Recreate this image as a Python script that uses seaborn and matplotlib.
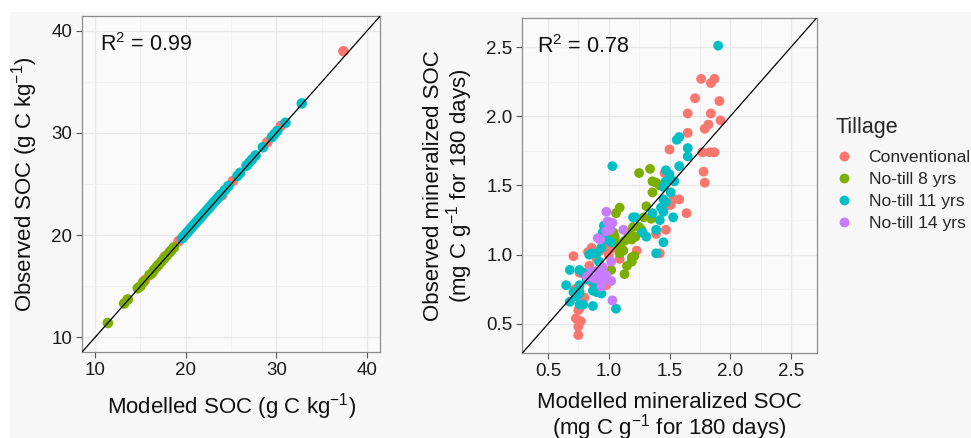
import numpy as np
import pandas as pd
import matplotlib
matplotlib.use('Agg')
import matplotlib.pyplot as plt
from matplotlib.patches import Rectangle
import seaborn as sns

sns.set_theme(style="white")
plt.rcParams['font.family'] = ['Liberation Sans', 'DejaVu Sans']
plt.rcParams['mathtext.fontset'] = 'custom'
plt.rcParams['mathtext.rm'] = 'Liberation Sans'
plt.rcParams['mathtext.it'] = 'Liberation Sans:italic'

tillage_order = ['Conventional', 'No-till 8 yrs', 'No-till 11 yrs', 'No-till 14 yrs']
palette = ['#F8766D', '#7CAE00', '#00BFC4', '#C77CFF']

# ---- left panel: SOC (g C kg-1) ----
soc_mod_conv = [15.5, 17.7, 19.2, 24.0, 25.2, 29.0, 30.5, 37.4]
soc_obs_conv = [15.6, 17.9, 19.4, 23.9, 25.3, 29.1, 30.7, 38.0]
soc_mod_nt8 = [11.4, 13.2, 13.6, 14.7, 15.0, 15.3, 16.0, 16.3, 16.5, 16.8, 17.0,
               17.3, 17.6, 17.9, 18.2, 18.4, 18.7, 23.7]
soc_obs_nt8 = [11.4, 13.3, 13.7, 14.8, 15.0, 15.4, 16.1, 16.3, 16.6, 16.9, 17.1,
               17.4, 17.7, 18.0, 18.3, 18.5, 18.8, 23.8]
soc_mod_nt11 = [19.6, 19.8, 20.0, 20.2, 20.4, 20.6, 20.8, 21.0, 21.2, 21.4, 21.6,
                21.8, 22.0, 22.2, 22.4, 22.6, 22.8, 23.0, 23.2, 23.4, 23.6, 23.9,
                24.3, 24.7, 25.7, 26.0, 26.7, 27.0, 27.3, 27.7, 28.5, 29.5, 29.8,
                30.1, 31.0, 32.8]
soc_obs_nt11 = [19.7, 19.9, 20.1, 20.3, 20.5, 20.7, 20.9, 21.1, 21.3, 21.5, 21.7,
                21.9, 22.1, 22.3, 22.5, 22.7, 22.9, 23.1, 23.3, 23.5, 23.7, 24.0,
                24.4, 24.8, 25.8, 26.1, 26.8, 27.1, 27.4, 27.8, 28.6, 29.6, 29.9,
                30.2, 31.0, 32.9]

# ---- right panel: mineralized SOC (mg C g-1 for 180 days) ----
min_mod_conv = [1.76, 1.87, 1.84, 1.71, 1.91, 1.65, 1.84, 1.92, 1.82, 1.79, 1.65,
                1.50, 1.77, 1.83, 1.87, 1.78, 1.79, 1.46, 1.53, 1.58, 1.47, 1.51,
                1.64, 1.47, 1.39, 1.42, 1.23, 0.86, 0.87, 0.93, 0.98, 0.90, 0.84,
                0.80, 0.76, 0.71, 0.72, 0.76, 0.80, 0.76, 0.75, 0.73, 0.77, 0.75,
                0.75, 1.09, 0.98, 0.94, 1.05, 0.86, 0.88, 1.00, 0.83]
min_obs_conv = [2.27, 2.27, 2.24, 2.13, 2.11, 2.02, 2.02, 1.97, 1.94, 1.91, 1.88,
                1.76, 1.74, 1.74, 1.74, 1.60, 1.52, 1.59, 1.40, 1.40, 1.35, 1.36,
                1.30, 1.18, 1.15, 1.01, 1.03, 1.05, 1.01, 1.03, 1.05, 0.97, 0.92,
                0.86, 0.87, 0.99, 0.75, 0.74, 0.69, 0.61, 0.60, 0.54, 0.52, 0.48,
                0.42, 0.97, 0.78, 1.11, 1.05, 0.80, 0.88, 1.00, 1.02]
min_mod_nt8 = [1.25, 1.34, 1.36, 1.39, 1.36, 1.42, 1.09, 1.06, 1.20, 1.17, 1.22,
               1.19, 1.16, 1.13, 1.29, 1.04, 1.05, 1.06, 1.09, 1.12, 1.09, 1.19,
               1.21, 1.19, 1.15, 1.13, 1.02, 1.25, 1.27, 0.98, 1.01, 1.31, 1.35]
min_obs_nt8 = [1.59, 1.62, 1.53, 1.52, 1.45, 1.50, 1.34, 1.30, 1.20, 1.16, 1.13,
               1.11, 1.13, 1.10, 1.27, 1.16, 1.13, 1.09, 1.06, 1.03, 1.01, 0.98,
               0.99, 0.95, 0.92, 0.86, 0.89, 1.20, 1.18, 1.18, 1.13, 1.35, 1.26]
min_mod_nt11 = [1.90, 1.03, 1.56, 1.58, 1.65, 1.65, 1.58, 1.47, 1.50, 1.54, 1.47,
                1.45, 1.51, 1.45, 1.47, 1.53, 1.42, 1.45, 1.36, 1.43, 1.39, 1.45,
                1.39, 1.20, 1.22, 1.28, 1.31, 0.96, 0.98, 0.94, 0.90, 0.86, 0.84,
                0.92, 0.76, 0.68, 0.79, 0.82, 0.87, 0.76, 0.65, 0.71, 0.73, 0.68,
                0.76, 0.79, 0.87, 0.92, 0.90, 0.94, 0.91, 1.06, 0.76, 0.87, 0.95,
                1.02]
min_obs_nt11 = [2.51, 1.64, 1.83, 1.85, 1.77, 1.71, 1.64, 1.61, 1.58, 1.53, 1.53,
                1.49, 1.45, 1.40, 1.38, 1.27, 1.25, 1.31, 1.30, 1.34, 1.18, 1.09,
                1.01, 1.27, 1.27, 1.16, 1.13, 1.21, 1.11, 1.05, 1.01, 1.01, 1.00,
                0.95, 0.89, 0.89, 0.87, 0.82, 0.81, 0.78, 0.78, 0.73, 0.70, 0.66,
                0.64, 0.64, 0.63, 0.73, 0.73, 0.72, 0.79, 0.61, 0.72, 0.74, 1.16,
                1.09]
min_mod_nt14 = [0.98, 0.99, 1.03, 1.12, 0.93, 0.91, 1.01, 0.98, 0.82, 0.85, 0.87,
                0.90, 0.93, 0.96, 0.94, 0.98, 1.02, 1.02, 1.03, 0.93, 0.95, 0.86,
                1.01, 0.88]
min_obs_nt14 = [1.31, 1.24, 1.23, 1.18, 1.11, 1.12, 1.18, 1.17, 0.84, 0.86, 0.84,
                0.87, 0.81, 0.82, 0.77, 0.85, 0.95, 0.81, 0.67, 0.88, 0.91, 0.88,
                1.20, 0.83]


def make_df(groups):
    frames = []
    for name, mod, obs in groups:
        frames.append(pd.DataFrame({'modelled': mod, 'observed': obs, 'Tillage': name}))
    return pd.concat(frames, ignore_index=True)


soc = make_df([('Conventional', soc_mod_conv, soc_obs_conv),
               ('No-till 8 yrs', soc_mod_nt8, soc_obs_nt8),
               ('No-till 11 yrs', soc_mod_nt11, soc_obs_nt11)])
mineral = make_df([('Conventional', min_mod_conv, min_obs_conv),
                   ('No-till 8 yrs', min_mod_nt8, min_obs_nt8),
                   ('No-till 11 yrs', min_mod_nt11, min_obs_nt11),
                   ('No-till 14 yrs', min_mod_nt14, min_obs_nt14)])

fig = plt.figure(figsize=(9.71, 4.38), dpi=100, facecolor='white')
fig.patches.append(Rectangle((10 / 971, 0), 1, 1 - 12 / 438, transform=fig.transFigure,
                             facecolor='#f7f7f7', edgecolor='none', zorder=-10))
ax1 = fig.add_axes([0.0845, 0.1963, 0.307, 0.767])
ax2 = fig.add_axes([0.538, 0.194, 0.303, 0.765])

sns.scatterplot(data=soc, x='modelled', y='observed', hue='Tillage', hue_order=tillage_order,
                palette=palette, s=58, linewidth=0, alpha=1, ax=ax1, legend=False, zorder=3)
sns.scatterplot(data=mineral, x='modelled', y='observed', hue='Tillage', hue_order=tillage_order,
                palette=palette, s=50, linewidth=0, alpha=1, ax=ax2, zorder=3)

for ax, lim, major, minor in [(ax1, (8.55, 41.45), [10, 20, 30, 40], [15, 25, 35]),
                              (ax2, (0.29, 2.71), [0.5, 1.0, 1.5, 2.0, 2.5],
                               [0.75, 1.25, 1.75, 2.25])]:
    ax.set_facecolor('#fafafa')
    ax.set_xlim(lim)
    ax.set_ylim(lim)
    ax.set_xticks(major)
    ax.set_yticks(major)
    ax.set_xticks(minor, minor=True)
    ax.set_yticks(minor, minor=True)
    ax.grid(True, which='major', color='#e8e8e8', linewidth=0.9, zorder=0)
    ax.grid(True, which='minor', color='#f0f0f0', linewidth=0.6, zorder=0)
    ax.tick_params(which='major', length=4, width=0.8, color='#555555', labelsize=13.5,
                   labelcolor='#1a1a1a', pad=3, bottom=True, left=True)
    ax.tick_params(which='minor', length=0)
    for sp in ax.spines.values():
        sp.set_color('#8c8c8c')
        sp.set_linewidth(0.9)
    ax.axline((lim[0], lim[0]), slope=1, color='black', linewidth=0.9, zorder=4)
    ax.set_axisbelow(True)

ax2.xaxis.set_major_formatter(matplotlib.ticker.FormatStrFormatter('%.1f'))
ax2.yaxis.set_major_formatter(matplotlib.ticker.FormatStrFormatter('%.1f'))

ax1.text(0.06, 0.895, r'R$^2$ = 0.99', transform=ax1.transAxes, fontsize=15.5, color='#111111')
ax2.text(0.05, 0.895, r'R$^2$ = 0.78', transform=ax2.transAxes, fontsize=15.5, color='#111111')

ax1.set_xlabel(r'Modelled SOC (g C kg$^{-1}$)', fontsize=16, color='#111111', labelpad=9)
ax1.set_ylabel(r'Observed SOC (g C kg$^{-1}$)', fontsize=16, color='#111111', labelpad=8)
ax2.set_xlabel('Modelled mineralized SOC\n' + r'(mg C g$^{-1}$ for 180 days)', fontsize=16,
               color='#111111', labelpad=9, linespacing=0.95)
ax2.set_ylabel('Observed mineralized SOC\n' + r'(mg C g$^{-1}$ for 180 days)', fontsize=16,
               color='#111111', labelpad=8, linespacing=1.0)

sns.move_legend(ax2, 'center left', bbox_to_anchor=(1.022, 0.535), frameon=False,
                title='Tillage', fontsize=12.6, title_fontsize=15.5, handlelength=1.0,
                handletextpad=0.9, labelspacing=0.38, borderpad=0.2, markerscale=1.0)
leg = ax2.get_legend()
leg._legend_box.align = 'left'
leg._legend_box.sep = 9

fig.savefig('out.png', dpi=100, facecolor=fig.get_facecolor())
